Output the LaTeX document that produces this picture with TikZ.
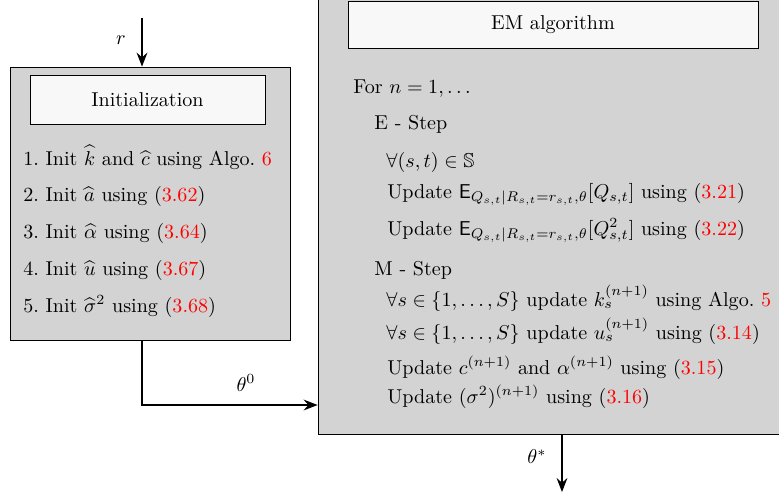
\documentclass[tikz,border=0pt]{standalone}
\usepackage{amssymb}
\usetikzlibrary{shapes,arrows,arrows.meta}
\usetikzlibrary{positioning}

\definecolor{boxgray}{RGB}{211,211,211}
\definecolor{titlegray}{RGB}{248,248,248}
\newcommand{\eqr}[1]{(\textcolor{red}{#1})}
\newcommand{\algr}[1]{\textcolor{red}{#1}}

\begin{document}
\begin{tikzpicture}[x=0.0175cm, y=-0.0175cm,
  >={Stealth[length=7pt, width=5.4pt, inset=2.4pt]},
  block/.style={draw, fill=boxgray, inner sep=0pt},
  title/.style={draw, fill=titlegray, inner sep=0pt},
  line/.style={anchor=base west, inner sep=0pt},
  flow/.style={->, line width=0.55pt}]
  \clip (0,0) rectangle (779,500);

  % initialization block
  \node[block, minimum width=4.9cm, minimum height=4.7775cm] (init) at (150,203.5) {};
  \node[title, minimum width=4.1125cm, minimum height=0.8575cm] (inittitle) at (147.5,99.5) {Initialization};
  \node[line] (i1) at (23,165) {1.~Init $\widehat{k}$ and $\widehat{c}$ using Algo.~\algr{6}};
  \node[line] (i2) at (23,201) {2.~Init $\widehat{a}$ using \eqr{3.62}};
  \node[line] (i3) at (23,238) {3.~Init $\widehat{\alpha}$ using \eqr{3.64}};
  \node[line] (i4) at (23,275) {4.~Init $\widehat{u}$ using \eqr{3.67}};
  \node[line] (i5) at (23,312) {5.~Init $\widehat{\sigma}^2$ using \eqr{3.68}};

  % EM block
  \node[block, minimum width=8.435cm, minimum height=7.945cm] (em) at (559,207) {};
  \node[title, minimum width=7.175cm, minimum height=0.8225cm] (emtitle) at (553,24.5) {EM algorithm};
  \node[line] (for) at (353,93) {For $n=1,\dots$};
  \node[line] (estep) at (374,129) {E - Step};
  \node[line] (e1) at (386,167) {$\forall (s,t)\in\mathbb{S}$};
  \node[line] (e2) at (387,198) {Update $\mathsf{E}_{Q_{s,t}|R_{s,t}=r_{s,t},\theta}[Q_{s,t}]$ using \eqr{3.21}};
  \node[line] (e3) at (387,235) {Update $\mathsf{E}_{Q_{s,t}|R_{s,t}=r_{s,t},\theta}[Q^2_{s,t}]$ using \eqr{3.22}};
  \node[line] (mstep) at (374,275) {M - Step};
  \node[line] (m1) at (386,306) {$\forall s\in\{1,\dots,S\}$ update $k_s^{(n+1)}$ using Algo.~\algr{5}};
  \node[line] (m2) at (386,339) {$\forall s\in\{1,\dots,S\}$ update $u_s^{(n+1)}$ using \eqr{3.14}};
  \node[line] (m3) at (387,374) {Update $c^{(n+1)}$ and $\alpha^{(n+1)}$ using \eqr{3.15}};
  \node[line] (m4) at (387,403) {Update $(\sigma^2)^{(n+1)}$ using \eqr{3.16}};

  % connectors
  \coordinate (rin) at (142,18);
  \coordinate (turn) at (142,405);
  \coordinate (out) at (562,492);
  \draw[flow] (rin) -- (rin |- init.north);
  \draw[flow] (init.south -| turn) -- (turn) -- (turn -| em.west);
  \draw[flow] (em.south -| out) -- (out);
  \node (rlab) at (121,40) {$r$};
  \node (thetazero) at (246,383) {$\theta^0$};
  \node (thetastar) at (537,457) {$\theta^*$};
\end{tikzpicture}
\end{document}
